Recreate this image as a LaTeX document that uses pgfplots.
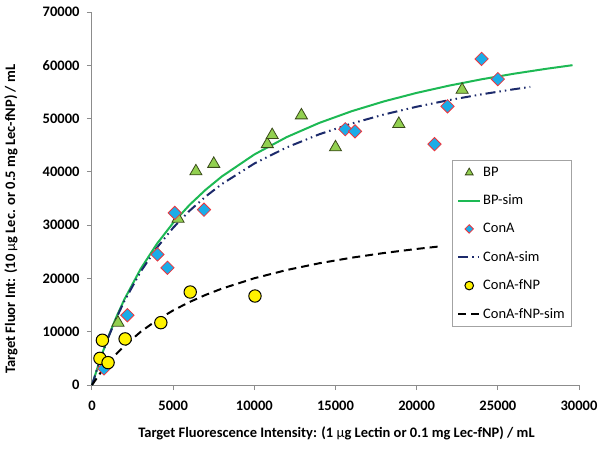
\documentclass[border=0pt]{standalone}
\usepackage{pgfplots}
\pgfplotsset{compat=1.18}
\usepackage{fontspec}
\setmainfont{Carlito}
\definecolor{bpfill}{HTML}{92D050}
\definecolor{bpedge}{HTML}{3A4A1A}
\definecolor{bpline}{HTML}{1DB954}
\definecolor{conafill}{HTML}{1AACE8}
\definecolor{conaedge}{HTML}{F0343C}
\definecolor{conaline}{HTML}{1C2A6B}
\definecolor{axgray}{HTML}{8C8C8C}
\newcommand{\fs}{\fontsize{14.5}{17}\selectfont}
\begin{document}
\begin{tikzpicture}
\useasboundingbox (-92pt,-65pt) rectangle (510pt,385pt);
\begin{axis}[
  at={(0pt,0pt)}, anchor=south west,
  scale only axis, width=487pt, height=373pt,
  xmin=0, xmax=30000, ymin=0, ymax=70000,
  axis x line*=bottom, axis y line*=left,
  axis line style={axgray, line width=1pt},
  every tick/.style={axgray, line width=1pt},
  tick align=outside, major tick length=5pt,
  xtick={0,5000,...,30000}, ytick={0,10000,...,70000},
  scaled ticks=false,
  /pgf/number format/assume math mode=true,
  /pgf/number format/1000 sep={},
  tick label style={font=\fs\bfseries, black},
  yticklabel style={xshift=-4pt},
  xticklabel style={yshift=-7pt},
  xlabel={Target Fluorescence Intensity: (1 {\mdseries μ}g Lectin or 0.1 mg Lec-fNP) / mL},
  ylabel={Target Fluor Int: (10 {\mdseries μ}g Lec. or 0.5 mg Lec-fNP) / mL},
  label style={font=\fs\bfseries},
  xlabel style={at={(rel axis cs:0.502,0)}, anchor=center, yshift=-48pt},
  ylabel style={at={([xshift=-81pt]rel axis cs:0,0.445)}, anchor=center},
  legend style={at={(rel axis cs:0.986,0.604)}, anchor=north east,
    draw=axgray!80, line width=1pt, fill=white, font=\fs,
    row sep=13pt, inner xsep=5pt, inner ysep=5pt},
  legend cell align=left,
  legend image code/.code={\draw[mark repeat=2,mark phase=2,#1] plot coordinates {(0pt,0pt) (11pt,0pt) (22pt,0pt)};},
  clip=false,
]
% BP
\addplot[only marks, mark=triangle*, mark size=7pt,
  mark options={fill=bpfill, draw=bpedge, line width=0.8pt},
  legend image post style={mark size=4.5pt}] coordinates {
 (1600,11700) (5300,31200) (6400,40100) (7500,41500) (10800,45200)
 (11100,46900) (12900,50600) (15000,44600) (18900,49000) (22800,55400)};
\addlegendentry{BP}
% BP-sim
\addplot[bpline, line width=2pt, no marks] coordinates {
 (0,0) (500,4801) (1000,9023) (1500,12765) (2000,16103) (3000,21808)
 (4000,26501) (5000,30431) (6000,33770) (7000,36641) (8000,39137)
 (10000,43262) (12000,46532) (14000,49187) (16000,51387) (18000,53238)
 (20000,54819) (22000,56183) (24000,57373) (26000,58420) (28000,59348)
 (29600,60019)};
\addlegendentry{BP-sim}
% ConA
\addplot[only marks, mark=square*, mark size=4.7pt,
  mark options={rotate=45, fill=conafill, draw=conaedge, line width=0.8pt},
  legend image post style={mark size=3pt}] coordinates {
 (740,3100) (2180,13100) (4030,24500) (4650,22000) (5100,32300) (6900,32900)
 (15600,48000) (16200,47600) (21100,45200) (21900,52300) (24000,61200) (25000,57400)};
\addlegendentry{ConA}
% ConA-sim
\addplot[conaline, line width=2pt, no marks,
  dash pattern=on 10pt off 4pt on 1.5pt off 4pt on 1.5pt off 4pt] coordinates {
 (0,0) (500,4746) (1000,8891) (1500,12543) (2000,15784) (3000,21285)
 (4000,25776) (5000,29513) (6000,32670) (7000,35373) (8000,37713)
 (10000,41562) (12000,44597) (14000,47051) (16000,49076) (18000,50776)
 (20000,52223) (22000,53470) (24000,54555) (26000,55509) (27000,55943)};
\addlegendentry{ConA-sim}
% ConA-fNP
\addplot[only marks, mark=*, mark size=6.2pt,
  mark options={fill=yellow, draw=black, line width=1pt},
  legend image post style={mark size=4.3pt}] coordinates {
 (640,8400) (490,5000) (990,4200) (2040,8650) (4240,11700) (6050,17450) (10040,16700)};
\addlegendentry{ConA-fNP}
% ConA-fNP-sim
\addplot[black, line width=2pt, no marks, dash pattern=on 8pt off 5pt] coordinates {
 (0,0) (500,2181) (1000,4107) (1500,5821) (2000,7356) (3000,9991)
 (4000,12169) (5000,14002) (6000,15564) (7000,16911) (8000,18086)
 (10000,20034) (12000,21584) (14000,22847) (16000,23895) (18000,24779)
 (20000,25535) (21400,26002)};
\addlegendentry{ConA-fNP-sim}
\end{axis}
\end{tikzpicture}
\end{document}
